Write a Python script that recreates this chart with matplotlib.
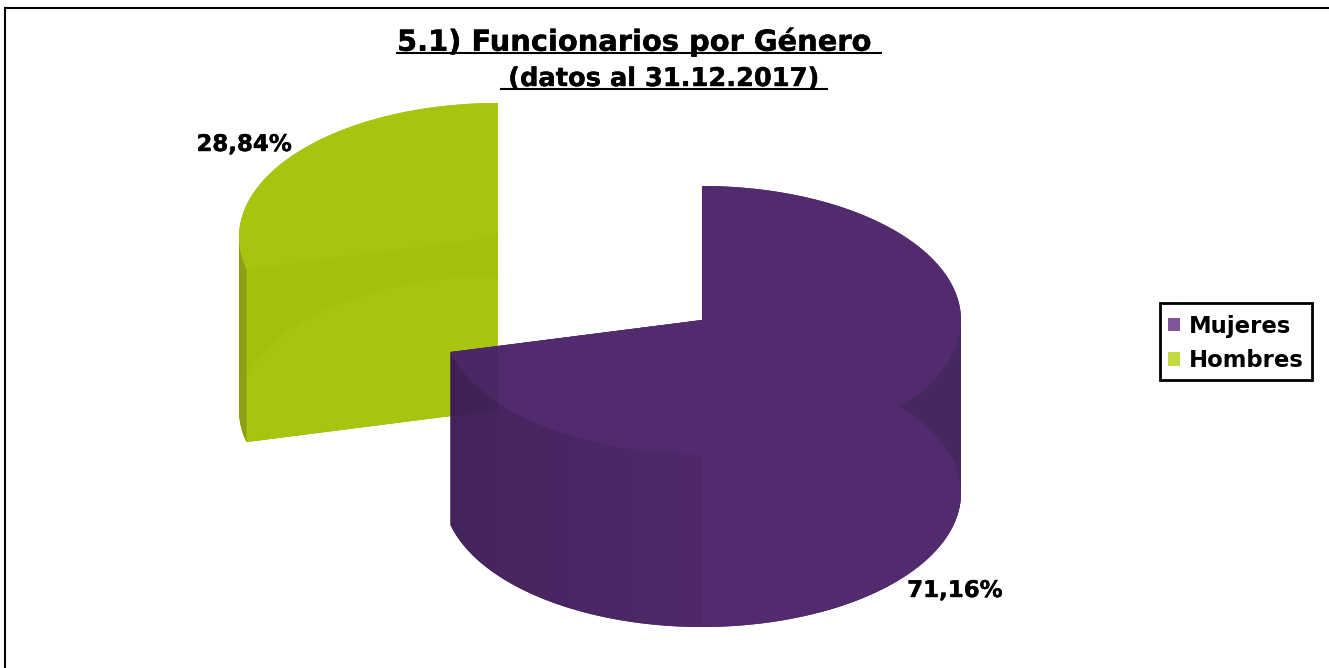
import numpy as np
import matplotlib
matplotlib.use("Agg")
import matplotlib.pyplot as plt
from matplotlib.patches import Polygon, Patch, Rectangle
from matplotlib.path import Path
import matplotlib.patheffects as pe

title = "5.1) Funcionarios por Género "
subtitle = "(datos al 31.12.2017)"
categories = ["Mujeres", "Hombres"]
values = [71.16, 28.84]
pie_colors = ["#522b6f", "#a8c40e"]
legend_colors = ["#7f559b", "#c5da3e"]

plt.rcParams["font.family"] = "DejaVu Sans"
fig = plt.figure(figsize=(13.29, 6.68), dpi=100)
ax = fig.add_axes([0, 0, 1, 1])
ax.set_xlim(0, 1329)
ax.set_ylim(668, 0)
ax.axis("off")

RX, RY, DEPTH = 259, 134, 173
split = values[0] / sum(values) * 2 * np.pi
C_M = (702, 320)
C_H = (498, 237)


def arc(c, a0, a1, dy=0, n=200):
    t = np.linspace(a0, a1, n)
    return np.column_stack([c[0] + RX * np.sin(t), c[1] + dy - RY * np.cos(t)])


def wedge(c, a0, a1, dy=0):
    return np.vstack([[c[0], c[1] + dy], arc(c, a0, a1, dy)])


def wall(c, a0, a1):
    return np.vstack([arc(c, a0, a1), arc(c, a0, a1, DEPTH)[::-1]])


def cut(c, a):
    p = arc(c, a, a, n=1)[0]
    return np.array([c, p, [p[0], p[1] + DEPTH], [c[0], c[1] + DEPTH]])


def add(pts, color, alpha=1.0, z=1):
    pg = Polygon(pts, closed=True, facecolor=color, edgecolor="none", alpha=alpha, zorder=z)
    ax.add_patch(pg)
    return pg


# Hombres
gc = pie_colors[1]
h_cut = cut(C_H, split)
add(np.vstack([[C_H], arc(C_H, 2 * np.pi, 1.5 * np.pi), arc(C_H, 1.5 * np.pi, split, DEPTH),
               [[C_H[0], C_H[1] + DEPTH]]]), gc, z=1)
add(h_cut, "#a5bf0e", z=1.5)
add(wedge(C_H, split, 2 * np.pi, DEPTH), gc, z=2)
add(wedge(C_H, split, 2 * np.pi), gc, z=3)
add(wall(C_H, split, 1.5 * np.pi), "#8f9f14", z=4)

# Mujeres
pc = pie_colors[0]
m_sil = np.vstack([[C_M], arc(C_M, 0, 0.5 * np.pi), arc(C_M, 0.5 * np.pi, split, DEPTH),
                   arc(C_M, split, split, n=1)])
add(m_sil, pc, z=5)
add(wall(C_M, 0.5 * np.pi, 0.85 * np.pi), "#462861", z=5)
add(cut(C_M, split), pc, z=5.5)
add(wedge(C_M, 0, split, DEPTH), pc, z=6)
edges = np.linspace(np.pi, split, 16)
for i in range(len(edges) - 1):
    frac = (i + 1) / (len(edges) - 1)
    add(wall(C_M, edges[i], edges[i + 1]), "black", alpha=0.04 + 0.13 * frac, z=7)
add(wedge(C_M, 0, split), pc, z=8)

# green seen through the purple slice
clip = Path(m_sil)
ov = add(h_cut, "black", alpha=0.08, z=9)
ov.set_clip_path(clip, transform=ax.transData)

# Value labels
heavy = [pe.withStroke(linewidth=0.3, foreground="black")]
for x, y, v in [(955, 597, values[0]), (244, 151, values[1])]:
    ax.text(x, y, f"{v:.2f}%".replace(".", ","), fontsize=16.5, fontweight="bold",
            ha="center", va="baseline", zorder=20, path_effects=heavy)

# Titles
ax.text(397, 50.7, title.rstrip(), fontsize=20.8, fontweight="bold", ha="left", va="baseline",
        zorder=20, path_effects=heavy)
ax.plot([396, 882], [53, 53], color="black", lw=1.5, solid_capstyle="butt", zorder=20)
ax.text(664, 86, subtitle, fontsize=18.5, fontweight="bold", ha="center", va="baseline",
        zorder=20, path_effects=heavy)
ax.plot([500, 828], [89, 89], color="black", lw=1.5, solid_capstyle="butt", zorder=20)

# Outer frame
ax.plot([5, 5, 1329], [668, 8, 8], color="black", lw=1.5, solid_joinstyle="miter", zorder=20)

# Legend
ax.add_patch(Rectangle((1160, 303), 152, 77, facecolor="white", edgecolor="black", lw=2, zorder=19))
handles = [Patch(facecolor=c, edgecolor="none", label=n) for c, n in zip(legend_colors, categories)]
lg = ax.legend(handles=handles, loc="upper left",
               bbox_to_anchor=(1159 / 1329, 1 - 306 / 668), frameon=False, borderaxespad=0,
               prop={"weight": "bold", "size": 16.4}, handlelength=0.55, handleheight=0.55,
               handletextpad=0.4, labelspacing=0.5, borderpad=0.38)
lg.set_zorder(20)

fig.savefig("out.png", dpi=100)
